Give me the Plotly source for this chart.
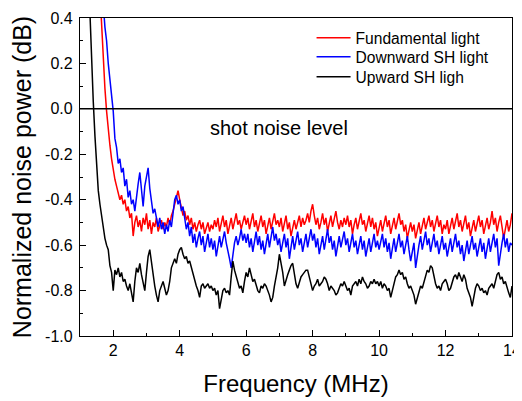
import numpy as np
import plotly.graph_objects as go

# Frequency grid (MHz): 1.00 ... 14.00 in 0.05 steps
freq = np.round(np.arange(1.0, 14.0001, 0.05), 2)

fundamental = [
    3.0, 2.7, 2.4, 2.1, 1.9, 1.7, 1.5, 1.3, 1.1, 0.95, 0.8, 0.65, 0.52, 0.36, 0.22, 0.09, -0.01, -0.10, -0.16, -0.22,
    -0.27, -0.31, -0.34, -0.37, -0.40, -0.38, -0.42, -0.40, -0.45, -0.43, -0.48, -0.46, -0.56, -0.50, -0.47, -0.52, -0.49, -0.54, -0.48, -0.51,
    -0.46, -0.53, -0.49, -0.55, -0.50, -0.52, -0.48, -0.54, -0.51, -0.49, -0.53, -0.50, -0.52, -0.48, -0.51, -0.47, -0.45, -0.42, -0.38, -0.36,
    -0.40, -0.44, -0.47, -0.45, -0.49, -0.47, -0.51, -0.48, -0.53, -0.50, -0.54, -0.51, -0.49, -0.53, -0.50, -0.55, -0.52, -0.50, -0.54, -0.51,
    -0.53, -0.49, -0.52, -0.48, -0.54, -0.50, -0.47, -0.52, -0.49, -0.55, -0.51, -0.48, -0.53, -0.50, -0.46, -0.51, -0.49, -0.53, -0.50, -0.47,
    -0.51, -0.48, -0.53, -0.50, -0.46, -0.52, -0.49, -0.54, -0.50, -0.47, -0.52, -0.49, -0.55, -0.51, -0.48, -0.53, -0.50, -0.46, -0.51, -0.49,
    -0.52, -0.48, -0.54, -0.50, -0.47, -0.53, -0.50, -0.56, -0.52, -0.49, -0.53, -0.50, -0.47, -0.52, -0.48, -0.51, -0.49, -0.46, -0.50, -0.45,
    -0.42, -0.47, -0.51, -0.48, -0.53, -0.50, -0.46, -0.51, -0.48, -0.54, -0.50, -0.47, -0.52, -0.49, -0.45, -0.50, -0.53, -0.49, -0.52, -0.48,
    -0.51, -0.47, -0.52, -0.49, -0.55, -0.51, -0.48, -0.53, -0.50, -0.46, -0.51, -0.49, -0.54, -0.50, -0.47, -0.52, -0.48, -0.53, -0.50, -0.56,
    -0.52, -0.49, -0.54, -0.50, -0.47, -0.52, -0.49, -0.55, -0.51, -0.48, -0.53, -0.50, -0.46, -0.51, -0.49, -0.54, -0.51, -0.57, -0.53, -0.50,
    -0.54, -0.51, -0.57, -0.53, -0.50, -0.55, -0.51, -0.48, -0.53, -0.50, -0.47, -0.52, -0.49, -0.54, -0.50, -0.47, -0.52, -0.49, -0.55, -0.51,
    -0.53, -0.49, -0.55, -0.51, -0.48, -0.53, -0.50, -0.46, -0.52, -0.49, -0.54, -0.50, -0.47, -0.53, -0.50, -0.56, -0.52, -0.49, -0.54, -0.50,
    -0.47, -0.52, -0.49, -0.55, -0.51, -0.48, -0.53, -0.50, -0.45, -0.51, -0.48, -0.54, -0.50, -0.47, -0.52, -0.57, -0.53, -0.49, -0.54, -0.51,
    -0.46,
]

downward_sh = [
    4.0, 3.6, 3.2, 2.9, 2.6, 2.3, 2.0, 1.75, 1.5, 1.3, 1.1, 0.92, 0.76, 0.60, 0.46, 0.36, 0.30, 0.20, 0.12, 0.06,
    -0.01, -0.13, -0.17, -0.24, -0.22, -0.28, -0.26, -0.34, -0.31, -0.39, -0.36, -0.42, -0.40, -0.45, -0.38, -0.33, -0.28, -0.36, -0.43, -0.34,
    -0.30, -0.26, -0.35, -0.42, -0.46, -0.44, -0.49, -0.52, -0.48, -0.53, -0.50, -0.55, -0.51, -0.54, -0.49, -0.52, -0.46, -0.40, -0.38, -0.42,
    -0.40, -0.45, -0.43, -0.49, -0.53, -0.50, -0.56, -0.52, -0.59, -0.55, -0.61, -0.57, -0.54, -0.60, -0.56, -0.63, -0.58, -0.55, -0.61, -0.57,
    -0.62, -0.58, -0.65, -0.60, -0.56, -0.61, -0.58, -0.54, -0.59, -0.62, -0.66, -0.70, -0.63, -0.59, -0.56, -0.60, -0.57, -0.53, -0.58, -0.55,
    -0.59, -0.55, -0.61, -0.57, -0.63, -0.58, -0.54, -0.60, -0.56, -0.62, -0.58, -0.64, -0.59, -0.55, -0.61, -0.57, -0.52, -0.58, -0.55, -0.60,
    -0.57, -0.63, -0.59, -0.55, -0.61, -0.57, -0.66, -0.60, -0.56, -0.62, -0.58, -0.54, -0.60, -0.57, -0.63, -0.59, -0.55, -0.61, -0.57, -0.53,
    -0.58, -0.55, -0.61, -0.57, -0.64, -0.59, -0.56, -0.62, -0.58, -0.53, -0.59, -0.56, -0.62, -0.58, -0.65, -0.60, -0.56, -0.61, -0.58, -0.54,
    -0.60, -0.57, -0.63, -0.59, -0.55, -0.61, -0.58, -0.64, -0.60, -0.56, -0.62, -0.58, -0.65, -0.61, -0.57, -0.63, -0.59, -0.55, -0.61, -0.58,
    -0.62, -0.58, -0.55, -0.61, -0.57, -0.63, -0.59, -0.66, -0.61, -0.57, -0.63, -0.59, -0.55, -0.61, -0.58, -0.64, -0.60, -0.56, -0.62, -0.67,
    -0.63, -0.59, -0.70, -0.64, -0.60, -0.56, -0.62, -0.58, -0.54, -0.60, -0.57, -0.63, -0.59, -0.55, -0.61, -0.58, -0.64, -0.60, -0.56, -0.62,
    -0.59, -0.65, -0.61, -0.57, -0.63, -0.59, -0.55, -0.61, -0.58, -0.64, -0.60, -0.67, -0.62, -0.58, -0.64, -0.60, -0.56, -0.62, -0.59, -0.65,
    -0.61, -0.57, -0.63, -0.59, -0.66, -0.61, -0.57, -0.63, -0.59, -0.55, -0.61, -0.57, -0.69, -0.63, -0.59, -0.55, -0.61, -0.57, -0.63, -0.59,
    -0.60,
]

upward_sh = [
    2.5, 2.0, 1.6, 1.2, 0.9, 0.75, 0.42, 0.20, 0.03, -0.12, -0.26, -0.36, -0.42, -0.47, -0.53, -0.57, -0.60, -0.62, -0.69, -0.72,
    -0.80, -0.71, -0.73, -0.70, -0.74, -0.72, -0.76, -0.75, -0.78, -0.80, -0.77, -0.81, -0.85, -0.76, -0.70, -0.72, -0.68, -0.73, -0.77, -0.80,
    -0.72, -0.65, -0.62, -0.68, -0.73, -0.78, -0.82, -0.85, -0.80, -0.78, -0.76, -0.79, -0.82, -0.80, -0.76, -0.70, -0.68, -0.66, -0.68, -0.64,
    -0.62, -0.61, -0.64, -0.66, -0.65, -0.68, -0.67, -0.70, -0.73, -0.76, -0.78, -0.80, -0.83, -0.78, -0.77, -0.79, -0.78, -0.77, -0.79, -0.78,
    -0.80, -0.79, -0.82, -0.80, -0.88, -0.84, -0.80, -0.79, -0.81, -0.80, -0.82, -0.74, -0.67, -0.71, -0.74, -0.76, -0.79, -0.78, -0.81, -0.76,
    -0.72, -0.74, -0.70, -0.73, -0.76, -0.75, -0.78, -0.80, -0.81, -0.78, -0.79, -0.77, -0.78, -0.80, -0.82, -0.85, -0.83, -0.78, -0.74, -0.70,
    -0.64, -0.68, -0.72, -0.78, -0.75, -0.73, -0.71, -0.69, -0.68, -0.73, -0.77, -0.79, -0.76, -0.74, -0.73, -0.72, -0.71, -0.71, -0.74, -0.78,
    -0.80, -0.78, -0.77, -0.75, -0.78, -0.77, -0.76, -0.74, -0.75, -0.77, -0.80, -0.78, -0.79, -0.80, -0.82, -0.81, -0.79, -0.77, -0.78, -0.76,
    -0.78, -0.80, -0.79, -0.82, -0.78, -0.77, -0.76, -0.78, -0.75, -0.77, -0.74, -0.76, -0.77, -0.79, -0.78, -0.76, -0.77, -0.75, -0.77, -0.76,
    -0.78, -0.76, -0.79, -0.77, -0.78, -0.80, -0.79, -0.83, -0.80, -0.76, -0.74, -0.73, -0.71, -0.73, -0.72, -0.75, -0.74, -0.77, -0.79, -0.78,
    -0.80, -0.82, -0.86, -0.83, -0.80, -0.78, -0.79, -0.76, -0.73, -0.71, -0.72, -0.69, -0.70, -0.74, -0.77, -0.79, -0.78, -0.80, -0.77, -0.76,
    -0.75, -0.77, -0.80, -0.79, -0.76, -0.74, -0.73, -0.75, -0.72, -0.74, -0.76, -0.73, -0.75, -0.79, -0.81, -0.83, -0.87, -0.82, -0.79, -0.77,
    -0.78, -0.80, -0.79, -0.81, -0.80, -0.82, -0.79, -0.78, -0.77, -0.79, -0.76, -0.73, -0.72, -0.75, -0.74, -0.77, -0.76, -0.79, -0.81, -0.83,
    -0.78,
]

series_names = ["Fundamental light", "Downward SH light", "Upward SH ligh"]
series_colors = ["#ff0000", "#0000ff", "#000000"]
x_tick_vals = [2, 4, 6, 8, 10, 12, 14]
y_tick_vals = [0.4, 0.2, 0.0, -0.2, -0.4, -0.6, -0.8, -1.0]
y_tick_text = ["0.4", "0.2", "0.0", "-0.2", "-0.4", "-0.6", "-0.8", "-1.0"]

FONT = "Arial, Liberation Sans, Helvetica, sans-serif"

legend_ids = ["legend", "legend2", "legend3"]
legend_rows_y = [0.937, 0.877, 0.814]

fig = go.Figure()
for name, vals, col, lid in zip(series_names, [fundamental, downward_sh, upward_sh], series_colors, legend_ids):
    n = min(len(freq), len(vals))
    fig.add_trace(go.Scatter(x=freq[:n], y=vals[:n], mode="lines", name=name, legend=lid,
                             line=dict(color=col, width=1.5)))

fig.add_shape(type="line", xref="paper", yref="y", x0=0, x1=1, y0=0, y1=0,
              line=dict(color="black", width=1.5))

fig.add_annotation(x=4.85, y=-0.085, xref="x", yref="y", text="shot noise level",
                   showarrow=False, xanchor="left", yanchor="middle",
                   font=dict(family=FONT, size=20, color="black"))

axis_common = dict(showline=True, linecolor="black", linewidth=1.2, mirror=True,
                   ticks="inside", tickcolor="black", ticklen=6, tickwidth=1,
                   showgrid=False, zeroline=False, automargin=False,
                   tickfont=dict(family=FONT, size=16, color="black"))

fig.update_xaxes(range=[1, 14], tickvals=x_tick_vals,
                 minor=dict(ticks="inside", ticklen=3, tickcolor="black", dtick=1, tick0=1),
                 title=dict(text="Frequency (MHz)", font=dict(family=FONT, size=24, color="black"), standoff=16),
                 **axis_common)
fig.update_yaxes(range=[-1.0, 0.4], tickvals=y_tick_vals, ticktext=y_tick_text,
                 minor=dict(ticks="inside", ticklen=3, tickcolor="black", dtick=0.1, tick0=0),
                 title=dict(text="Normalized noise power (dB)", font=dict(family=FONT, size=25, color="black"), standoff=11),
                 ticklabelstandoff=3,
                 **axis_common)

legend_common = dict(x=0.536, xanchor="left", yanchor="middle",
                     bgcolor="rgba(0,0,0,0)", borderwidth=0,
                     font=dict(family=FONT, size=15.6, color="black"), itemwidth=34)

fig.update_layout(
    width=514, height=393,
    margin=dict(l=72, r=10, t=10, b=65),
    plot_bgcolor="white", paper_bgcolor="white",
    showlegend=True,
    legend=dict(y=legend_rows_y[0], **legend_common),
    legend2=dict(y=legend_rows_y[1], **legend_common),
    legend3=dict(y=legend_rows_y[2], **legend_common),
)

fig.write_html("out.html")
